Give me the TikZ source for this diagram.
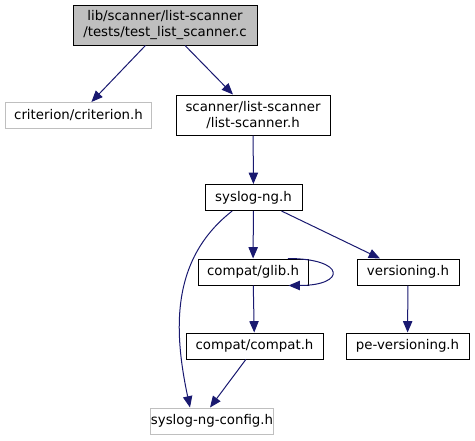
\documentclass[tikz,border=0pt]{standalone}
\usepackage{fontspec}
\setmainfont{DejaVu Sans}
\usepackage{xcolor}
\usepackage{tikz}
\usetikzlibrary{arrows.meta,positioning}
\definecolor{edgeBlue}{HTML}{191970}
\definecolor{extGray}{HTML}{BFBFBF}

\begin{document}
\begin{tikzpicture}[
  x=0.75pt, y=0.75pt,
  every node/.style={font=\fontsize{10pt}{12pt}\selectfont, inner sep=0pt},
  hfile/.style={draw=black, line width=0.75pt, fill=white,
             minimum height=19.5pt, align=center},
  rootfile/.style={hfile, fill=extGray, minimum height=30pt},
  extfile/.style={hfile, draw=extGray},
  incl/.style={-{Triangle[length=8.5pt, width=7pt]}, line width=0.75pt, draw=edgeBlue},
]
\useasboundingbox (0,0) rectangle (475,-440);

% Root file
\node[rootfile, minimum width=138pt] (root) at (165,-25) {lib/scanner/list-scanner\\/tests/test\_list\_scanner.c};

% Included headers
\node[extfile, minimum width=110pt] (crit) at (78.5,-115.5) {criterion/criterion.h};
\node[hfile, minimum width=115.5pt, minimum height=30pt] (lsc) at (253,-115) {scanner/list-scanner\\/list-scanner.h};
\node[hfile, minimum width=72.75pt] (syslog) at (253.5,-197.5) {syslog-ng.h};
\node[hfile, minimum width=82.5pt] (glib) at (253,-272) {compat/glib.h};
\node[hfile, minimum width=76.5pt] (vers) at (408,-272) {versioning.h};
\node[hfile, minimum width=102.75pt] (compat) at (254.5,-346) {compat/compat.h};
\node[hfile, minimum width=92.25pt] (pever) at (407.5,-346) {pe-versioning.h};
\node[extfile, minimum width=90pt] (config) at (212,-421) {syslog-ng-config.h};

% Include edges
\draw[incl] (root) -- (crit);
\draw[incl] (root) -- (lsc);
\draw[incl] (lsc) -- (syslog);
\draw[incl] (syslog) -- (glib);
\draw[incl] (syslog) -- (vers);
\draw[incl] ([xshift=-16pt]syslog.south) to[out=218, in=102] ([xshift=-16.5pt]config.north);
\draw[incl] ([xshift=-15.5pt]glib.north east) to[out=0, in=0, looseness=5.5] ([xshift=-15pt]glib.south east);
\draw[incl] (glib) -- (compat);
\draw[incl] (vers) -- (pever);
\draw[incl] ([xshift=-6.5pt]compat.south) -- ([xshift=-1.5pt]config.north);

\end{tikzpicture}
\end{document}
